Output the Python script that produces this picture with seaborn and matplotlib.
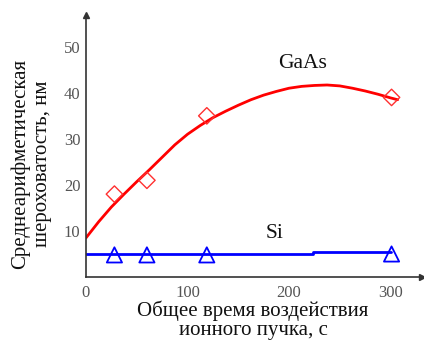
import matplotlib
matplotlib.use("Agg")
import matplotlib.pyplot as plt
import seaborn as sns
import pandas as pd

# GaAs fitted curve
gaas_curve_x = [0, 12.5, 25, 37.5, 50, 62.5, 75, 87.5, 100, 112.5, 125, 137.5, 150,
                162.5, 175, 187.5, 200, 212.5, 225, 237.5, 250, 262.5, 275, 287.5, 300, 307]
gaas_curve_y = [8.5, 12.0, 15.2, 18.0, 20.7, 23.3, 26.0, 28.7, 31.0, 32.9, 34.6, 36.0, 37.3,
                38.5, 39.5, 40.3, 41.0, 41.4, 41.6, 41.7, 41.5, 41.0, 40.4, 39.7, 38.9, 38.5]
# GaAs measured points
gaas_pts_x = [28, 60, 119, 301]
gaas_pts_y = [18.0, 21.0, 35.0, 39.0]
# Si line and points
si_line_x = [0, 224, 224, 300]
si_line_y = [5.0, 5.0, 5.4, 5.4]
si_pts_x = [28, 60, 119, 301]
si_pts_y = [4.8, 4.8, 4.8, 5.0]

x_ticks = [0, 100, 200, 300]
y_ticks = [10, 20, 30, 40, 50]
x_label = "Общее время воздействия\nионного пучка, с"
y_label = "Среднеарифметическая\nшероховатость, нм"

sns.set_style("white")
plt.rcParams['font.family'] = ['Liberation Serif', 'DejaVu Serif']

fig = plt.figure(figsize=(4.24, 3.40), dpi=100)
ax = fig.add_axes([86/424, 63/340, 336/424, 262/340])

df_gc = pd.DataFrame({"x": gaas_curve_x, "y": gaas_curve_y})
df_gp = pd.DataFrame({"x": gaas_pts_x, "y": gaas_pts_y})
df_sl = pd.DataFrame({"x": si_line_x, "y": si_line_y})
df_sp = pd.DataFrame({"x": si_pts_x, "y": si_pts_y})

sns.lineplot(data=df_gc, x="x", y="y", ax=ax, color="#ff0000", linewidth=2.0,
             sort=False, estimator=None)
sns.lineplot(data=df_sl, x="x", y="y", ax=ax, color="#0000ff", linewidth=2.0,
             sort=False, estimator=None)
sns.scatterplot(data=df_gp, x="x", y="y", ax=ax, marker="D", s=70,
                facecolor="none", edgecolor="#ff3030", linewidth=1.0, zorder=5)
sns.scatterplot(data=df_sp, x="x", y="y", ax=ax, marker="^", s=120,
                facecolor="none", edgecolor="#0000ff", linewidth=1.3, zorder=5)

ax.text(213, 46.3, "GaAs", ha="center", va="center", fontsize=15.5, color="#111111")
ax.text(186, 9.5, "Si", ha="center", va="center", fontsize=15.5, color="#111111")

ax.set_xlim(0, 331)
ax.set_ylim(0, 56.9)
ax.set_xticks(x_ticks)
ax.set_yticks(y_ticks)
ax.set_xticklabels([str(v) for v in x_ticks])
ax.set_yticklabels([str(v) for v in y_ticks])
ax.tick_params(axis="both", direction="in", length=7, width=1.3, color="#333333",
               labelcolor="#555555", labelsize=12, pad=6)
ax.tick_params(axis="y", pad=4)

for s in ["top", "right"]:
    ax.spines[s].set_visible(False)
for s in ["left", "bottom"]:
    ax.spines[s].set_color("#333333")
    ax.spines[s].set_linewidth(1.2)

ax.plot(1, 0, marker=">", color="#333333", markersize=5, transform=ax.transAxes, clip_on=False)
ax.plot(0, 1, marker="^", color="#333333", markersize=5, transform=ax.transAxes, clip_on=False)

ax.set_xlabel(x_label, fontsize=15, color="#111111", linespacing=1.0)
ax.set_ylabel(y_label, fontsize=15, color="#111111", linespacing=1.25)
ax.xaxis.set_label_coords(0.497, -0.09)
ax.yaxis.set_label_coords(-0.1, 0.431)

fig.savefig("out.png", dpi=100)
